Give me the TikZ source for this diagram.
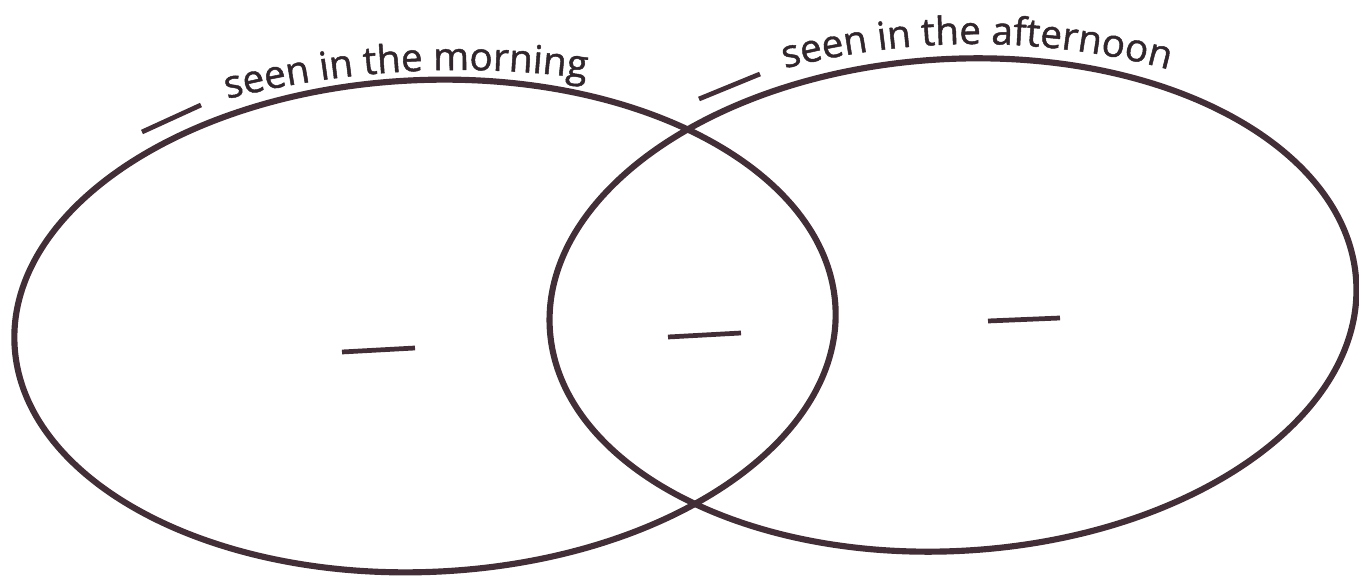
\documentclass[tikz,border=0pt]{standalone}
\usepackage{fontspec}
\usepackage{tikz}
\usetikzlibrary{shapes.geometric, decorations.text}
\newfontfamily\labelfont[FakeBold=1.2]{Open Sans}
\definecolor{InkBrown}{RGB}{66,46,54}
\definecolor{InkDark}{RGB}{48,38,44}
\tikzset{
  setring/.style={draw=InkBrown, line width=3.5pt, ellipse, inner sep=0pt, outer sep=0pt,
    minimum height=9.84cm},
  blankline/.style={draw=InkBrown, line width=2.7pt},
  arclabel/.style={decorate, decoration={text along path, text align=center, text={#1}}},
}
\newcommand{\labelfmt}{\labelfont\fontsize{22}{26}\selectfont\color{InkDark}}

\begin{document}
\begin{tikzpicture}[x=0.02cm, y=0.02cm]
  \useasboundingbox (0,0) rectangle (1359,578);
  \node[setring, minimum width=16.44cm, rotate=2.5] (morning) at (425,252) {};
  \node[setring, minimum width=16.16cm, rotate=3.4] (afternoon) at (953,273) {};
  \path[arclabel={|\labelfmt|seen in the morning}]
    (460,-442) ++(108.27:950) arc[start angle=108.27, end angle=78.27, radius=950];
  \path[arclabel={|\labelfmt|seen in the afternoon}]
    (975,-216) ++(107.86:750) arc[start angle=107.86, end angle=71.86, radius=750];
  \foreach \a/\b in {{(142,446)}/{(201,473)}, {(699,479)}/{(760,504)},
                     {(342,226)}/{(415,230)}, {(668,241)}/{(741,245)}, {(988,257)}/{(1060,260)}}
    \draw[blankline] \a -- \b;
\end{tikzpicture}
\end{document}
